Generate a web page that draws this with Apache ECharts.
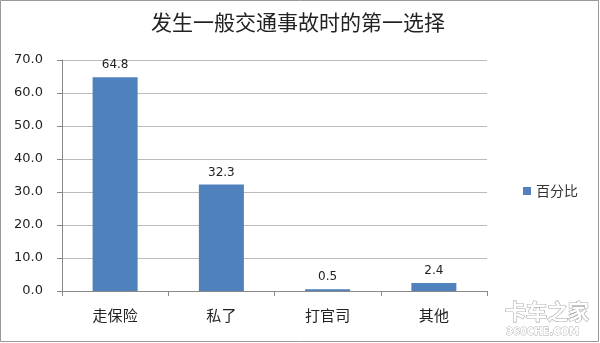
<!DOCTYPE html>
<html><head><meta charset="utf-8">
<script src="https://cdn.jsdelivr.net/npm/echarts@6/dist/echarts.min.js"></script>
<style>html,body{margin:0;padding:0;background:#fff}#c{width:600px;height:343px}</style>
</head><body><div id="c"></div>
<script>
const title = '发生一般交通事故时的第一选择';
const categories = ['走保险', '私了', '打官司', '其他'];
const seriesName = '百分比';
const values = [64.8, 32.3, 0.5, 2.4];
const yMin = 0, yMax = 70, yStep = 10;

const chart = echarts.init(document.getElementById('c'));
chart.setOption({
  animation: false,
  backgroundColor: '#fff',
  title: {
    text: title, left: 293, top: 7, textAlign: 'center',
    textStyle: { fontFamily: 'Noto Sans CJK SC', fontSize: 21, fontWeight: 'normal', color: '#222' }
  },
  legend: {
    data: [seriesName], left: 518, top: 179, itemWidth: 8, itemHeight: 8, icon: 'rect', itemGap: 4,
    textStyle: { fontFamily: 'Noto Sans CJK SC', fontSize: 14, color: '#333' }
  },
  grid: { left: 62, right: 113, top: 60, bottom: 52 },
  xAxis: {
    type: 'category', data: categories,
    axisLine: { lineStyle: { color: '#888' } },
    axisTick: { show: true, alignWithLabel: false, length: 5, lineStyle: { color: '#888' } },
    axisLabel: { fontFamily: 'Noto Sans CJK SC', fontSize: 15, color: '#222', margin: 17 }
  },
  yAxis: {
    type: 'value', min: yMin, max: yMax, interval: yStep,
    axisLine: { show: true, lineStyle: { color: '#888' } },
    axisTick: { show: true, length: 5, lineStyle: { color: '#888' } },
    splitLine: { lineStyle: { color: '#bbb' } },
    axisLabel: { formatter: v => v.toFixed(1), fontFamily: 'DejaVu Sans', fontSize: 13, color: '#222', margin: 19 }
  },
  series: [{
    name: seriesName, type: 'bar', data: values, barWidth: 45,
    itemStyle: { color: '#4F81BD' },
    label: { show: true, position: 'top', formatter: p => p.value.toFixed(1), fontFamily: 'DejaVu Sans', fontSize: 12, color: '#222', distance: 6 }
  }],
  graphic: [
    { type: 'rect', x: 0, y: 0, shape: { x: 0.5, y: 0.5, width: 598, height: 341 }, style: { fill: 'none', stroke: '#999', lineWidth: 1 }, z: 100 },
    { type: 'text', x: 505, y: 301, style: { text: '卡车之家', font: 'bold 21px "Noto Sans CJK SC"', fill: '#fff', stroke: '#aaa', lineWidth: 1.2 } },
    { type: 'text', x: 506, y: 327, style: { text: '360CHE.COM', font: 'bold 10px "DejaVu Sans"', fill: '#fff', stroke: '#aaa', lineWidth: 0.8 } }
  ]
});
</script></body></html>
